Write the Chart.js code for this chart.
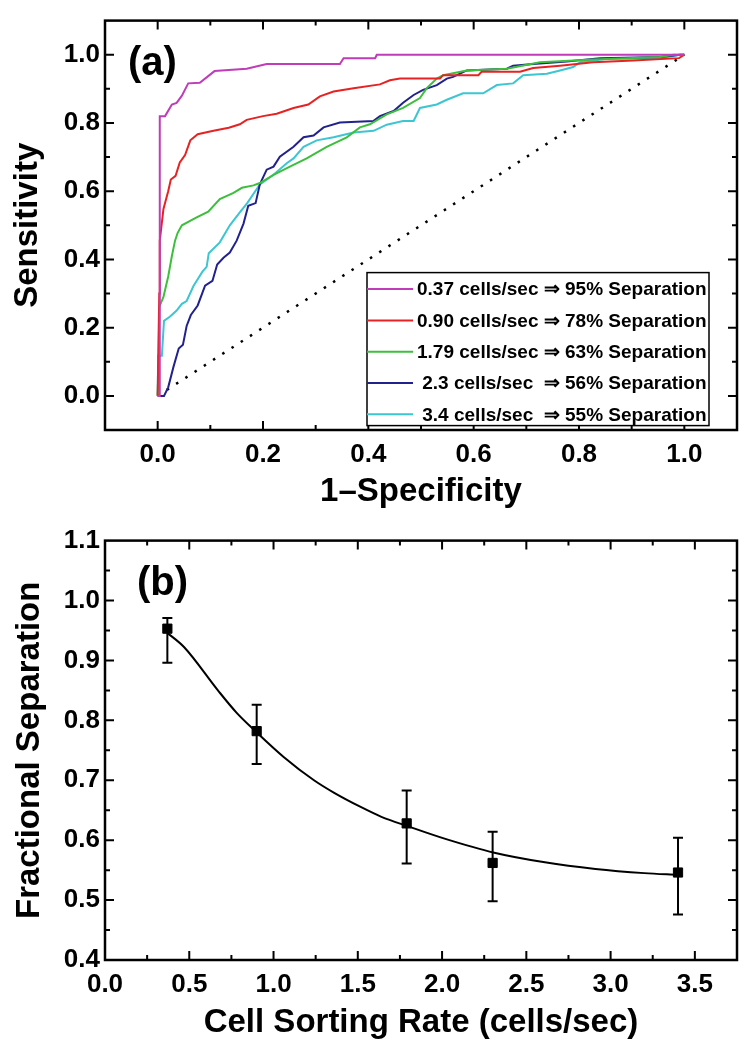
<!DOCTYPE html>
<html>
<head>
<meta charset="utf-8">
<script src="https://cdn.jsdelivr.net/npm/chart.js@4/dist/chart.umd.min.js"></script>
<style>
  body { margin: 0; background: #fff; }
  canvas { position: absolute; left: 0; }
  #roc-chart { top: 0; }
  #sep-chart { top: 520px; }
</style>
</head>
<body>
<canvas id="roc-chart" width="747" height="520"></canvas>
<canvas id="sep-chart" width="747" height="530"></canvas>
<script>
// (a) ROC curves, one pair of arrays per sorting rate
const fpr037 = [0, 0.004, 0.004, 0.014, 0.027, 0.036, 0.046, 0.058, 0.08, 0.108, 0.169, 0.207, 0.346, 0.353, 0.413, 0.416, 1.0];
const tpr037 = [0, 0, 0.82, 0.82, 0.854, 0.859, 0.88, 0.916, 0.918, 0.952, 0.959, 0.973, 0.973, 0.99, 0.99, 1.0, 1.0];

const fpr090 = [0, 0.003, 0.004, 0.011, 0.02, 0.025, 0.034, 0.042, 0.052, 0.062, 0.076, 0.106, 0.135, 0.156, 0.169, 0.2, 0.226, 0.258, 0.286, 0.308, 0.334, 0.372, 0.422, 0.441, 0.46, 0.536, 0.542, 0.609, 0.615, 0.688, 0.713, 0.764, 0.827, 0.903, 0.99, 1.0];
const tpr090 = [0, 0.3, 0.455, 0.548, 0.6, 0.634, 0.645, 0.684, 0.706, 0.749, 0.767, 0.777, 0.786, 0.796, 0.809, 0.82, 0.827, 0.844, 0.854, 0.878, 0.892, 0.902, 0.913, 0.925, 0.93, 0.93, 0.94, 0.94, 0.95, 0.95, 0.961, 0.968, 0.978, 0.983, 0.99, 1.0];

const fpr179 = [0, 0.002, 0.003, 0.011, 0.02, 0.027, 0.033, 0.038, 0.046, 0.074, 0.096, 0.118, 0.144, 0.16, 0.182, 0.194, 0.22, 0.251, 0.283, 0.321, 0.359, 0.384, 0.403, 0.435, 0.466, 0.498, 0.511, 0.53, 0.542, 0.587, 0.663, 0.726, 0.827, 0.954, 0.979, 1.0];
const tpr179 = [0, 0.12, 0.261, 0.29, 0.35, 0.41, 0.455, 0.478, 0.5, 0.523, 0.54, 0.577, 0.595, 0.61, 0.617, 0.624, 0.648, 0.672, 0.696, 0.73, 0.758, 0.787, 0.796, 0.825, 0.844, 0.873, 0.902, 0.93, 0.94, 0.954, 0.959, 0.978, 0.986, 0.993, 1.0, 1.0];

const fpr23 = [0, 0.012, 0.02, 0.03, 0.04, 0.048, 0.055, 0.063, 0.076, 0.09, 0.104, 0.113, 0.125, 0.137, 0.15, 0.163, 0.172, 0.186, 0.194, 0.207, 0.22, 0.232, 0.258, 0.277, 0.296, 0.315, 0.346, 0.41, 0.422, 0.448, 0.466, 0.486, 0.504, 0.53, 0.549, 0.561, 0.587, 0.663, 0.675, 0.713, 0.777, 0.84, 0.954, 0.992, 1.0];
const tpr23 = [0, 0, 0.025, 0.085, 0.139, 0.15, 0.205, 0.237, 0.265, 0.323, 0.337, 0.385, 0.405, 0.42, 0.455, 0.505, 0.557, 0.565, 0.62, 0.663, 0.672, 0.701, 0.73, 0.758, 0.763, 0.787, 0.801, 0.806, 0.82, 0.835, 0.859, 0.882, 0.897, 0.911, 0.93, 0.935, 0.954, 0.959, 0.968, 0.973, 0.98, 0.99, 0.993, 1.0, 1.0];

const fpr34 = [0, 0.001, 0.008, 0.012, 0.023, 0.036, 0.046, 0.055, 0.068, 0.085, 0.093, 0.097, 0.118, 0.137, 0.156, 0.17, 0.194, 0.22, 0.245, 0.258, 0.277, 0.302, 0.334, 0.372, 0.41, 0.435, 0.466, 0.486, 0.498, 0.53, 0.549, 0.58, 0.618, 0.644, 0.675, 0.694, 0.739, 0.764, 0.789, 0.802, 0.853, 0.954, 0.992, 1.0];
const tpr34 = [0, 0.118, 0.118, 0.22, 0.232, 0.25, 0.27, 0.278, 0.322, 0.364, 0.378, 0.418, 0.45, 0.5, 0.538, 0.565, 0.62, 0.648, 0.682, 0.696, 0.73, 0.749, 0.758, 0.772, 0.777, 0.795, 0.806, 0.806, 0.844, 0.854, 0.868, 0.887, 0.887, 0.911, 0.916, 0.94, 0.944, 0.954, 0.964, 0.978, 0.988, 0.99, 1.0, 1.0];

const chanceX = [0, 1];
const chanceY = [0, 1];

const rocLabels = [
  "0.37 cells/sec \u21D2 95% Separation",
  "0.90 cells/sec \u21D2 78% Separation",
  "1.79 cells/sec \u21D2 63% Separation",
  " 2.3 cells/sec  \u21D2 56% Separation",
  " 3.4 cells/sec  \u21D2 55% Separation"
];
const rocTicks = [0, 0.2, 0.4, 0.6, 0.8, 1.0];

// (b) fractional separation vs sorting rate
const sortRates = [0.37, 0.90, 1.79, 2.3, 3.4];
const separation = [0.953, 0.782, 0.628, 0.562, 0.546];
const sepErrTop = [0.971, 0.826, 0.683, 0.614, 0.604];
const sepErrBottom = [0.896, 0.727, 0.561, 0.498, 0.476];
const fitX = [0.37, 0.47, 0.67, 0.78, 0.90, 1.06, 1.24, 1.36, 1.52, 1.64, 1.80, 2.01, 2.31, 2.61, 2.91, 3.20, 3.40];
const fitY = [0.946, 0.922, 0.850, 0.813, 0.780, 0.739, 0.700, 0.679, 0.655, 0.639, 0.623, 0.603, 0.579, 0.563, 0.552, 0.545, 0.542];
const rateTicks = [0, 0.5, 1.0, 1.5, 2.0, 2.5, 3.0, 3.5];
const sepTicks = [0.4, 0.5, 0.6, 0.7, 0.8, 0.9, 1.0, 1.1];

const couleurs = ['#c03cb8', '#e82222', '#3cbf3c', '#22228e', '#3cc6d2'];

Chart.defaults.font.family = "'Liberation Sans', Arial, sans-serif";
Chart.defaults.color = '#000';

function paires(xs, ys) {
  return xs.map((x, i) => ({ x: x, y: ys[i] }));
}

// cadre noir avec graduations vers l'interieur sur les 4 cotes
const cadrePlugin = {
  id: 'cadre',
  afterDatasetsDraw(chart, args, opts) {
    const { ctx, chartArea: a, scales } = chart;
    ctx.save();
    ctx.strokeStyle = '#000';
    ctx.lineWidth = 2;
    const axes = [['x', opts.xMajor, opts.xMinor], ['y', opts.yMajor, opts.yMinor]];
    axes.forEach(([id, majors, pas]) => {
      const s = scales[id];
      const n0 = Math.ceil(s.min / pas - 1e-6), n1 = Math.floor(s.max / pas + 1e-6);
      for (let n = n0; n <= n1; n++) {
        const v = n * pas;
        if (Math.abs(v - s.min) < 1e-6 || Math.abs(v - s.max) < 1e-6) continue;
        const major = majors.some(m => Math.abs(m - v) < 1e-6);
        const len = major ? 9 : 5;
        const p = s.getPixelForValue(v);
        ctx.beginPath();
        if (id === 'x') {
          ctx.moveTo(p, a.bottom); ctx.lineTo(p, a.bottom - len);
          ctx.moveTo(p, a.top); ctx.lineTo(p, a.top + len);
        } else {
          ctx.moveTo(a.left, p); ctx.lineTo(a.left + len, p);
          ctx.moveTo(a.right, p); ctx.lineTo(a.right - len, p);
        }
        ctx.stroke();
      }
    });
    ctx.lineWidth = 2.5;
    ctx.strokeRect(a.left, a.top, a.right - a.left, a.bottom - a.top);
    // lettre du panneau
    ctx.fillStyle = '#000';
    ctx.font = "bold 40px 'Liberation Sans', Arial, sans-serif";
    ctx.textBaseline = 'alphabetic';
    ctx.fillText(opts.lettre, a.left + opts.lettreX, a.top + 54);
    ctx.restore();
  }
};

// legende encadree a l'interieur du graphique (a)
const legendePlugin = {
  id: 'legendeInterne',
  afterDatasetsDraw(chart) {
    const { ctx, chartArea: a } = chart;
    const left = a.left + 262, top = a.top + 252, w = 342, h = 153;
    ctx.save();
    ctx.fillStyle = '#fff';
    ctx.fillRect(left, top, w, h);
    ctx.strokeStyle = '#000';
    ctx.lineWidth = 1.5;
    ctx.strokeRect(left, top, w, h);
    ctx.font = "bold 19px 'Liberation Sans', Arial, sans-serif";
    ctx.textBaseline = 'middle';
    chart.data.datasets.slice(0, 5).forEach((ds, i) => {
      const y = top + 16.5 + i * 31.3;
      ctx.strokeStyle = ds.borderColor;
      ctx.lineWidth = 2;
      ctx.beginPath();
      ctx.moveTo(left, y);
      ctx.lineTo(left + 46, y);
      ctx.stroke();
      ctx.fillStyle = '#000';
      ctx.fillText(ds.label, left + 50, y + 1);
    });
    ctx.restore();
  }
};

// barres d'erreur du graphique (b)
const erreurPlugin = {
  id: 'barresErreur',
  beforeDatasetsDraw(chart) {
    const { ctx, scales: { x, y } } = chart;
    ctx.save();
    ctx.strokeStyle = '#000';
    ctx.lineWidth = 2;
    sortRates.forEach((r, i) => {
      const px = x.getPixelForValue(r);
      const y1 = y.getPixelForValue(sepErrTop[i]);
      const y2 = y.getPixelForValue(sepErrBottom[i]);
      ctx.beginPath();
      ctx.moveTo(px, y1); ctx.lineTo(px, y2);
      ctx.moveTo(px - 5, y1); ctx.lineTo(px + 5, y1);
      ctx.moveTo(px - 5, y2); ctx.lineTo(px + 5, y2);
      ctx.stroke();
    });
    ctx.restore();
  }
};

function axe(min, max, ticks, hauteur, largeur, titre, titrePad) {
  return {
    type: 'linear',
    min: min,
    max: max,
    afterBuildTicks: s => { s.ticks = ticks.map(v => ({ value: v })); },
    afterFit: s => {
      if (hauteur) s.height = hauteur;
      if (largeur) s.width = largeur;
    },
    grid: { display: false, drawTicks: false },
    border: { display: false },
    ticks: {
      padding: hauteur ? 9 : 5,
      color: '#000',
      font: { size: 26, weight: 'bold' },
      callback: v => v.toFixed(1)
    },
    title: {
      display: true,
      text: titre,
      color: '#000',
      font: { size: 33, weight: 'bold' },
      padding: titrePad
    }
  };
}

const rocSeries = [[fpr037, tpr037], [fpr090, tpr090], [fpr179, tpr179], [fpr23, tpr23], [fpr34, tpr34]];
const rocDatasets = rocSeries.map((s, i) => ({
  label: rocLabels[i],
  data: paires(s[0], s[1]),
  showLine: true,
  borderColor: couleurs[i],
  borderWidth: 2,
  pointRadius: 0,
  tension: 0
}));
rocDatasets.push({
  label: 'chance',
  data: paires(chanceX, chanceY),
  showLine: true,
  borderColor: '#000',
  borderWidth: 2.5,
  borderDash: [2.5, 8.5],
  pointRadius: 0
});

new Chart(document.getElementById('roc-chart'), {
  type: 'scatter',
  data: { datasets: rocDatasets },
  options: {
    responsive: false,
    animation: false,
    layout: { padding: { top: 10, right: 10, left: 0, bottom: 0 } },
    plugins: {
      legend: { display: false },
      tooltip: { enabled: false },
      cadre: { xMajor: rocTicks, xMinor: 0.1, yMajor: rocTicks, yMinor: 0.1, lettre: '(a)', lettreX: 23 }
    },
    scales: {
      x: axe(-0.1, 1.1, rocTicks, 90, 0, '1\u2013Specificity', { top: 0, bottom: 8 }),
      y: axe(-0.1, 1.1, rocTicks, 0, 105, 'Sensitivity', { top: 8, bottom: 0 })
    }
  },
  plugins: [cadrePlugin, legendePlugin]
});

new Chart(document.getElementById('sep-chart'), {
  type: 'scatter',
  data: {
    datasets: [
      {
        label: 'mesures',
        data: paires(sortRates, separation),
        backgroundColor: '#000',
        borderColor: '#000',
        pointStyle: 'rect',
        pointRadius: 6.5,
        showLine: false
      },
      {
        label: 'ajustement',
        data: paires(fitX, fitY),
        showLine: true,
        borderColor: '#000',
        borderWidth: 2,
        pointRadius: 0,
        cubicInterpolationMode: 'monotone'
      }
    ]
  },
  options: {
    responsive: false,
    animation: false,
    layout: { padding: { top: 18, right: 10, left: 0, bottom: 0 } },
    plugins: {
      legend: { display: false },
      tooltip: { enabled: false },
      cadre: { xMajor: rateTicks, xMinor: 0.25, yMajor: sepTicks, yMinor: 0.05, lettre: '(b)', lettreX: 32 }
    },
    scales: {
      x: axe(0, 3.75, rateTicks, 90, 0, 'Cell Sorting Rate (cells/sec)', { top: 0, bottom: 7 }),
      y: axe(0.4, 1.1, sepTicks, 0, 105, 'Fractional Separation', { top: 10, bottom: 0 })
    }
  },
  plugins: [cadrePlugin, erreurPlugin]
});
</script>
</body>
</html>
